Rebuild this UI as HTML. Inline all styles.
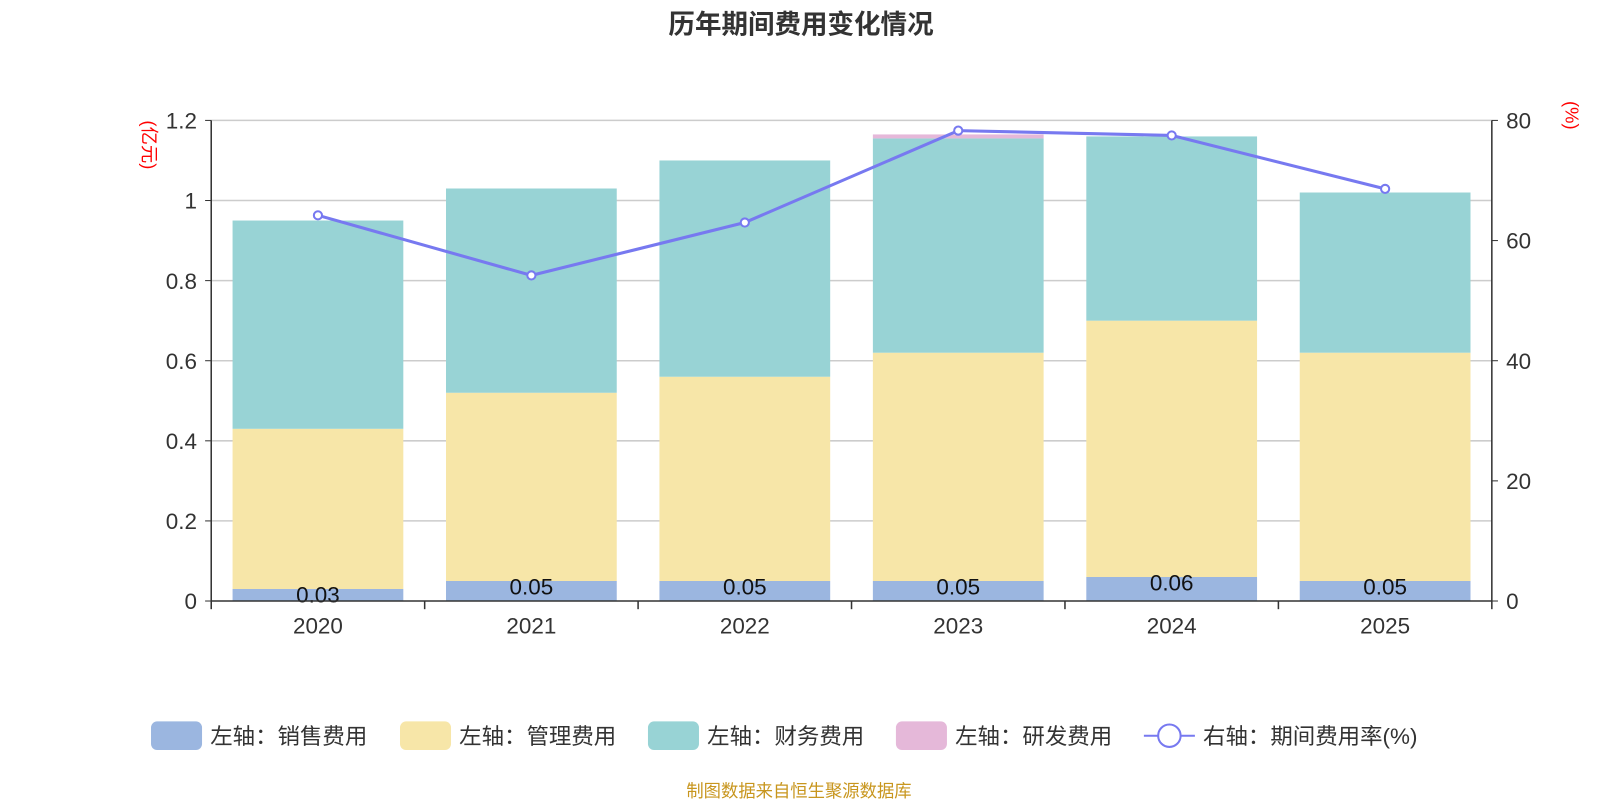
<!DOCTYPE html>
<html><head><meta charset="utf-8"><style>
body{margin:0;background:#fff;width:1600px;height:800px;overflow:hidden;font-family:"Liberation Sans","Noto Sans CJK SC",sans-serif}
</style></head><body>
<svg id="c" width="1600" height="800" viewBox="0 0 1568 784" xmlns="http://www.w3.org/2000/svg" font-family="Liberation Sans, Noto Sans CJK SC, sans-serif"></svg>
<script>
const categories=['2020','2021','2022','2023','2024','2025'];
const sales=[0.03,0.05,0.05,0.05,0.06,0.05];
const mgmt=[0.40,0.47,0.51,0.57,0.64,0.57];
const fin=[0.52,0.51,0.54,0.535,0.46,0.40];
const rnd=[0,0,0,0.01,0,0];
const rate=[64.2,54.2,63.0,78.3,77.5,68.6];
const leftTicks=['0','0.2','0.4','0.6','0.8','1','1.2'];
const rightTicks=['0','20','40','60','80'];
const NS='http://www.w3.org/2000/svg';
const svg=document.getElementById('c');
const L=207,R=1462,T=118,B=589;
const yL=v=>B-(v/1.2)*(B-T);
const yR=v=>B-(v/80)*(B-T);
const bw=(R-L)/categories.length;
const xC=i=>L+bw*(i+0.5);
function el(t,a,txt){const e=document.createElementNS(NS,t);for(const k in a)e.setAttribute(k,a[k]);if(txt!=null)e.textContent=txt;svg.appendChild(e);return e;}
let e;
e=el('text',{x:785,y:33,'text-anchor':'middle','font-size':26,'font-weight':'bold',fill:'#333'},'历年期间费用变化情况');

leftTicks.forEach((t,i)=>{const y=yL(+t);
 if(i>0){e=el('line',{x1:L,x2:R,y1:y,y2:y,stroke:'#ccc','stroke-width':1.5});}
 e=el('line',{x1:L-6,x2:L,y1:y,y2:y,stroke:'#333'});
 e=el('text',{x:L-14,y:y+8,'text-anchor':'end','font-size':22,fill:'#333'},t);
});
rightTicks.forEach(t=>{const y=yR(+t);
 e=el('line',{x1:R,x2:R+6,y1:y,y2:y,stroke:'#333'});
 e=el('text',{x:R+14,y:y+8,'font-size':22,fill:'#333'},t);
});
e=el('text',{x:0,y:0,transform:'translate(140,142) rotate(90)','text-anchor':'middle','font-size':18,fill:'#f00'},'(亿元)');
e=el('text',{x:0,y:0,transform:'translate(1534,113) rotate(90)','text-anchor':'middle','font-size':18,fill:'#f00'},'(%)');
const series=[[sales,'#9bb6e0','bar-sales'],[mgmt,'#f7e6a8','bar-mgmt'],[fin,'#98d3d5','bar-finance'],[rnd,'#e5b8d9','bar-rnd']];
categories.forEach((c,i)=>{let base=0;const x=xC(i)-bw*0.4,w=bw*0.8;
 series.forEach(([arr,col,nm])=>{const v=arr[i];if(v>0){e=el('rect',{x:x,y:yL(base+v),width:w,height:yL(base)-yL(base+v),fill:col});}base+=v;});
 e=el('text',{x:xC(i),y:yL(sales[i])+13,'text-anchor':'middle','font-size':22,fill:'#111'},sales[i].toFixed(2));
 e=el('text',{x:xC(i),y:621,'text-anchor':'middle','font-size':22,fill:'#333'},c);
});
for(let i=0;i<=categories.length;i++){e=el('line',{x1:L+bw*i,x2:L+bw*i,y1:B,y2:B+8,stroke:'#333','stroke-width':1.5});}
e=el('line',{x1:L,x2:R,y1:B,y2:B,stroke:'#333','stroke-width':1.5});
e=el('line',{x1:L,x2:L,y1:T,y2:B,stroke:'#333','stroke-width':1.5});
e=el('line',{x1:R,x2:R,y1:T,y2:B,stroke:'#333','stroke-width':1.5});
e=el('polyline',{points:rate.map((v,i)=>xC(i)+','+yR(v)).join(' '),fill:'none',stroke:'#7779f0','stroke-width':3});
rate.forEach((v,i)=>{e=el('circle',{cx:xC(i),cy:yR(v),r:4,fill:'#fff',stroke:'#7779f0','stroke-width':2});});
const leg=[['#9bb6e0','左轴：销售费用',148],['#f7e6a8','左轴：管理费用',392],['#98d3d5','左轴：财务费用',635],['#e5b8d9','左轴：研发费用',878]];
leg.forEach(([c,t,x])=>{e=el('rect',{x:x,y:707,width:50,height:28,rx:6,fill:c});
 e=el('text',{x:x+58,y:729,'font-size':22,fill:'#333'},t);});
e=el('line',{x1:1121,x2:1171,y1:721,y2:721,stroke:'#7779f0','stroke-width':2});
e=el('circle',{cx:1146,cy:721,r:11,fill:'#fff',stroke:'#7779f0','stroke-width':2});
e=el('text',{x:1179,y:729,'font-size':22,fill:'#333'},'右轴：期间费用率(%)');
e=el('text',{x:783,y:781,'text-anchor':'middle','font-size':17,fill:'#c8961e'},'制图数据来自恒生聚源数据库');
</script></body></html>
